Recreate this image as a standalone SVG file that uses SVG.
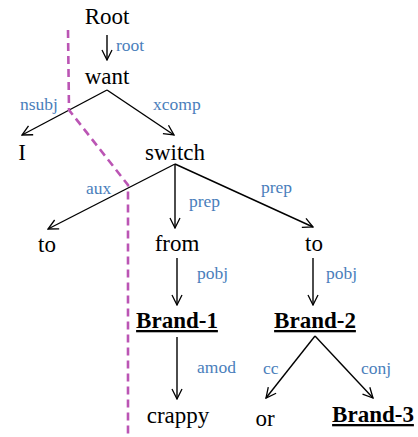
<svg xmlns="http://www.w3.org/2000/svg" width="418" height="437" viewBox="0 0 418 437">
  <defs>
    <marker id="arrow" viewBox="0 0 12 12" refX="11" refY="6" markerWidth="12" markerHeight="12" markerUnits="userSpaceOnUse" orient="auto">
      <path d="M1,1 L11,6 L1,11" fill="none" stroke="#000" stroke-width="1.3"/>
    </marker>
  </defs>
  <style>
    text { font-family: "Liberation Serif", serif; }
    .word { font-size: 23px; fill: #000; text-anchor: middle; }
    .brand { font-weight: bold; text-decoration: underline; }
    .lbl { font-size: 17.5px; fill: #4a7ebb; }
    .edge { fill: none; stroke: #000; stroke-width: 1.4; }
    .arr { marker-end: url(#arrow); }
    .cut { fill: none; stroke: #bb55b4; stroke-width: 2.6; stroke-dasharray: 8 5; }
  </style>

  <!-- dependency arcs -->
  <g id="connectors">
    <line class="edge arr" x1="107" y1="35" x2="107" y2="60"/>
    <line class="edge arr" x1="107" y1="90" x2="22" y2="135"/>
    <line class="edge arr" x1="107" y1="90" x2="174" y2="135"/>
    <line class="edge arr" x1="175" y1="164" x2="48" y2="229"/>
    <line class="edge arr" x1="175" y1="164" x2="175" y2="228"/>
    <line class="edge arr" x1="175" y1="164" x2="313" y2="227"/>
    <line class="edge arr" x1="177" y1="258" x2="177" y2="305"/>
    <line class="edge arr" x1="313" y1="258" x2="313" y2="305"/>
    <line class="edge arr" x1="177" y1="337" x2="177" y2="399"/>
    <line class="edge arr" x1="315" y1="336" x2="266" y2="398"/>
    <line class="edge arr" x1="315" y1="336" x2="373" y2="398"/>
  </g>

  <!-- edge labels -->
  <g id="labels">
    <text class="lbl" font-family="Liberation Serif" x="116" y="51">root</text>
    <text class="lbl" font-family="Liberation Serif" x="20" y="110">nsubj</text>
    <text class="lbl" font-family="Liberation Serif" x="153" y="110">xcomp</text>
    <text class="lbl" font-family="Liberation Serif" x="86" y="194">aux</text>
    <text class="lbl" font-family="Liberation Serif" x="189" y="207">prep</text>
    <text class="lbl" font-family="Liberation Serif" x="261" y="193">prep</text>
    <text class="lbl" font-family="Liberation Serif" x="197" y="279">pobj</text>
    <text class="lbl" font-family="Liberation Serif" x="326" y="279">pobj</text>
    <text class="lbl" font-family="Liberation Serif" x="197" y="373">amod</text>
    <text class="lbl" font-family="Liberation Serif" x="263" y="374">cc</text>
    <text class="lbl" font-family="Liberation Serif" x="361" y="374">conj</text>
  </g>

  <!-- tokens -->
  <g id="n-root"><text class="word" font-family="Liberation Serif" x="107" y="24">Root</text></g>
  <g id="n-want"><text class="word" font-family="Liberation Serif" x="107" y="84">want</text></g>
  <g id="n-i"><text class="word" font-family="Liberation Serif" x="22" y="160">I</text></g>
  <g id="n-switch"><text class="word" font-family="Liberation Serif" x="175" y="160">switch</text></g>
  <g id="n-to1"><text class="word" font-family="Liberation Serif" x="47" y="252">to</text></g>
  <g id="n-from"><text class="word" font-family="Liberation Serif" x="177" y="251">from</text></g>
  <g id="n-to2"><text class="word" font-family="Liberation Serif" x="314" y="251">to</text></g>
  <g id="n-brand1"><text class="word brand" font-family="Liberation Serif" x="177" y="328">Brand-1</text></g>
  <g id="n-brand2"><text class="word brand" font-family="Liberation Serif" x="315" y="328">Brand-2</text></g>
  <g id="n-crappy"><text class="word" font-family="Liberation Serif" x="178" y="423">crappy</text></g>
  <g id="n-or"><text class="word" font-family="Liberation Serif" x="265" y="426">or</text></g>
  <g id="n-brand3"><text class="word brand" font-family="Liberation Serif" x="373" y="422">Brand-3</text></g>

  <!-- segmentation boundary -->
  <polyline id="boundary" class="cut" points="68,30 69,110 128,185 128,435"/>
</svg>
